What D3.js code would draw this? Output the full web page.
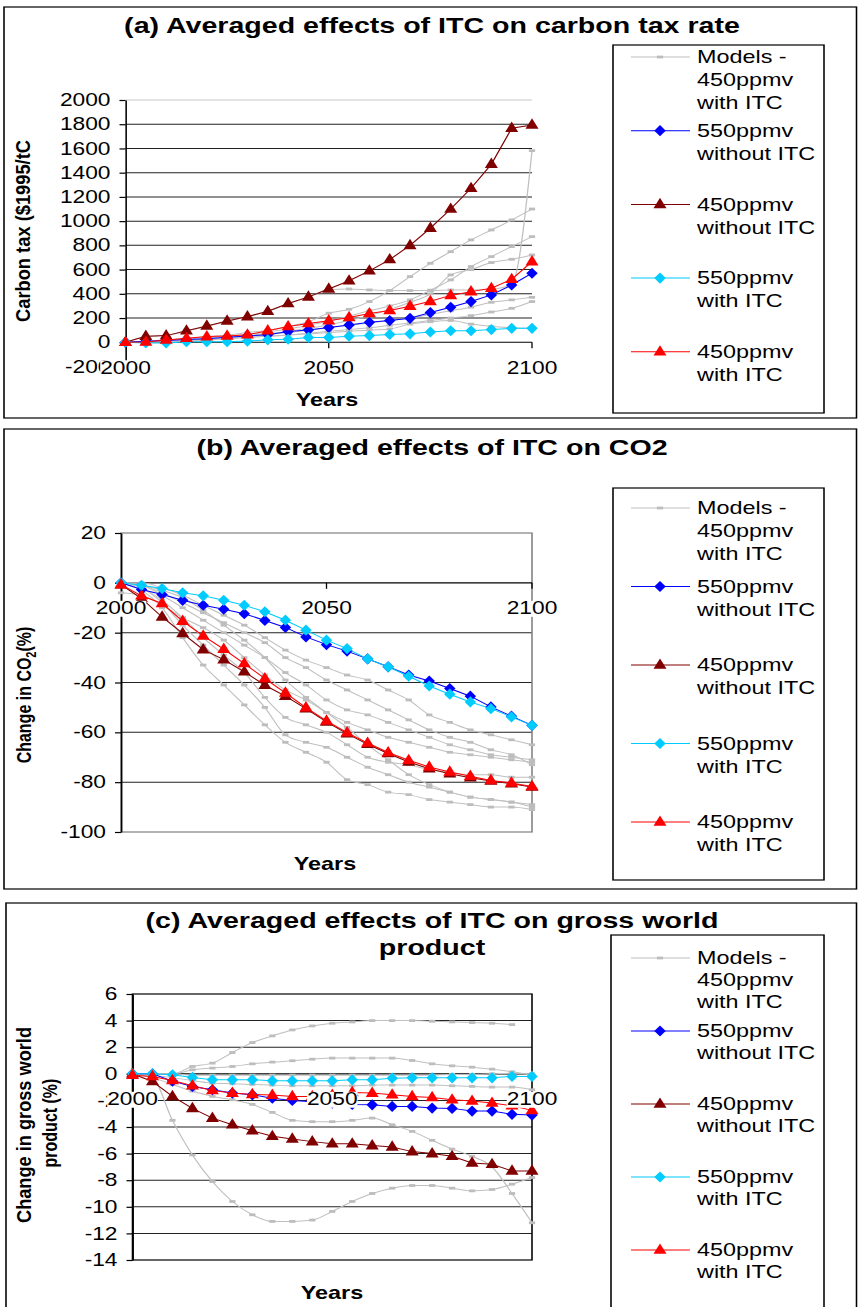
<!DOCTYPE html>
<html>
<head>
<meta charset="utf-8">
<script src="https://cdn.jsdelivr.net/npm/d3@7"></script>
<style>
body { margin: 0; background: #fff; }
svg { display: block; }
text { font-family: "Liberation Sans", Arial, sans-serif; fill: #000; }
</style>
</head>
<body>
<script>
// the original picture is stretched sideways, so draw in a narrower box and stretch it
const SX = 1.3;
const W = 858 / SX, H = 1307;
const X = v => v / SX;

const years = [2000, 2005, 2010, 2015, 2020, 2025, 2030, 2035, 2040, 2045, 2050,
               2055, 2060, 2065, 2070, 2075, 2080, 2085, 2090, 2095, 2100];
const xTicks = [2000, 2050, 2100];

// (a) carbon tax rate, $1995/tC
const taxTicks = [-200, 0, 200, 400, 600, 800, 1000, 1200, 1400, 1600, 1800, 2000];
const taxWithout550 = [0, 8, 15, 22, 30, 41, 52, 62, 88, 102, 121, 143, 165, 179, 198, 245, 289, 336, 391, 473, 570];
const taxWithout450 = [0, 50, 55, 95, 135, 176, 212, 256, 320, 375, 440, 508, 590, 683, 800, 942, 1100, 1271, 1470, 1767, 1794];
const taxWith550 = [0, -5, -5, 5, 5, 5, 10, 20, 25, 40, 40, 50, 55, 65, 70, 85, 95, 95, 105, 115, 115];
const taxWith450 = [0, 2, 19, 33, 47, 52, 62, 96, 130, 155, 178, 205, 237, 262, 298, 338, 387, 418, 446, 520, 666];
const taxModels = [
  [0, 10, 20, 30, 45, 60, 80, 100, 130, 170, 240, 272, 336, 427, 542, 652, 748, 845, 927, 1010, 1100],
  [0, 5, 15, 25, 35, 50, 65, 85, 110, 140, 175, 215, 260, 300, 350, 430, 515, 625, 707, 790, 872],
  [0, 5, 10, 20, 30, 40, 55, 70, 90, 115, 145, 180, 220, 270, 330, 400, 556, 600, 658, 685, 721],
  [0, 45, 55, 92, 130, 172, 210, 255, 318, 372, 435, 440, 432, 427, 427, 427, 432, 432, 437, 480, 1582],
  [0, 5, 10, 15, 25, 35, 50, 65, 80, 100, 120, 140, 160, 180, 200, 230, 260, 290, 330, 350, 371],
  [0, 5, 10, 15, 20, 30, 40, 50, 60, 75, 90, 105, 120, 140, 160, 180, 200, 220, 250, 280, 336],
  [0, 0, 5, 10, 20, 30, 40, 50, 60, 70, 80, 90, 100, 110, 150, 170, 180, 150, 130, 120, 116]
];

// (b) change in CO2, %
const co2Ticks = [-100, -80, -60, -40, -20, 0, 20];
const co2Without550 = [0, -2.7, -4.7, -7, -9, -10.6, -12.4, -15.1, -17.9, -21.7, -24.8, -27.4, -30.5, -33.7, -37, -39.4, -42.4, -45.5, -49.8, -53.5, -57.2];
const co2Without450 = [-0.7, -6.3, -13.7, -20.3, -26.8, -30.8, -35.7, -41.1, -45.5, -50.5, -55.8, -60.5, -64.8, -68.5, -71.9, -74.6, -76.6, -78.2, -79.5, -80.6, -81.9];
const co2With550 = [0, -1, -2.3, -4, -5.2, -7, -9, -11.6, -15, -19, -23, -26.4, -30.5, -33.7, -37.5, -41.4, -44.7, -47.8, -50.5, -53.8, -57.2];
const co2With450 = [-0.7, -5.2, -8.3, -15.4, -21.3, -26.6, -32.4, -38.4, -44.2, -50.1, -55.4, -60.1, -64.3, -68.1, -71.2, -73.9, -75.9, -77.6, -79.3, -80.3, -81.7];
const co2Models = [
  [0, -3, -10, -22, -33, -41, -49, -57, -64, -68, -72, -79, -81, -84, -85, -87, -88, -89, -90, -90, -91],
  [0, -2, -8, -17, -25, -33, -41, -50, -61, -64, -66, -70, -74, -77, -80, -82, -84, -86, -87, -88, -89],
  [0, -2, -7, -14, -22, -29, -36, -46, -54, -57, -60, -65, -70, -72, -73, -75, -76, -77, -77, -78, -78],
  [-4, -5, -9, -14, -18, -23, -30, -37, -43, -47, -52, -56, -59, -62, -64, -66, -68, -69, -70, -71, -72],
  [0, -1, -5, -10, -15, -20, -25, -30, -36, -41, -47, -51, -53, -56, -59, -62, -65, -67, -69, -70, -71],
  [0, -1, -4, -8, -12, -16, -20, -24, -30, -34, -39, -43, -47, -51, -55, -59, -62, -64, -67, -69, -73],
  [0, 0, -2, -5, -9, -13, -17, -22, -27, -31, -34, -37, -39, -43, -47, -53, -56, -59, -61, -63, -65],
  [0, -1, -3, -6, -11, -17, -23, -30, -39, -46, -52, -58, -65, -71, -77, -81, -84, -86, -87, -88, -90]
];

// (c) change in gross world product, %
const gwpTicks = [-14, -12, -10, -8, -6, -4, -2, 0, 2, 4, 6];
const gwpWithout550 = [0, 0, -0.55, -0.95, -1.2, -1.45, -1.58, -1.83, -2.0, -2.1, -2.2, -2.3, -2.33, -2.45, -2.45, -2.58, -2.6, -2.8, -2.8, -3.05, -3.1];
const gwpWithout450 = [0, -0.58, -1.7, -2.6, -3.33, -3.83, -4.28, -4.7, -4.9, -5.1, -5.26, -5.26, -5.4, -5.5, -5.85, -6.0, -6.2, -6.7, -6.8, -7.3, -7.3];
const gwpWith550 = [0, 0, -0.07, -0.27, -0.45, -0.45, -0.45, -0.53, -0.53, -0.53, -0.53, -0.45, -0.45, -0.33, -0.3, -0.3, -0.3, -0.3, -0.3, -0.2, -0.2];
const gwpWith450 = [-0.1, -0.2, -0.5, -0.9, -1.25, -1.45, -1.55, -1.6, -1.7, -1.7, -1.6, -1.4, -1.45, -1.58, -1.7, -1.78, -1.95, -2.05, -2.2, -2.4, -2.75];
const gwpModels = [
  [0, 0, 0, 0.55, 0.8, 1.6, 2.35, 2.85, 3.3, 3.6, 3.8, 3.9, 4.0, 4.0, 4.0, 3.95, 3.9, 3.85, 3.8, 3.7, null],
  [0, 0, 0, 0.3, 0.43, 0.55, 0.75, 0.88, 0.98, 1.1, 1.18, 1.18, 1.18, 1.18, 1.0, 0.75, 0.6, 0.5, 0.35, 0.15, -0.1],
  [0, -0.3, -3.5, -6.1, -8.1, -9.6, -10.6, -11.1, -11.1, -11.0, -10.35, -9.6, -9.0, -8.6, -8.4, -8.4, -8.6, -8.8, -8.7, -8.3, -7.8],
  [0, -0.3, -0.8, -1.3, -1.7, -1.95, -2.3, -2.9, -3.5, -3.6, -3.6, -3.5, -3.33, -3.83, -4.33, -5.0, -5.66, -6.2, -7.0, -9.0, -11.2],
  [0, -0.1, -0.3, -0.5, -0.7, -0.75, -0.8, -0.85, -0.9, -0.9, -0.9, -0.9, -0.85, -0.85, -0.85, -0.85, -0.9, -0.95, -1.0, -1.0, -1.2],
  [0, 0, 0, -0.1, -0.1, -0.1, -0.1, -0.1, -0.1, -0.1, -0.1, -0.1, -0.1, -0.1, -0.1, -0.1, -0.05, -0.05, 0, 0.05, 0]
];

const legendLabels = [
  ["Models -", "450ppmv", "with ITC"],
  ["550ppmv", "without ITC"],
  ["450ppmv", "without ITC"],
  ["550ppmv", "with ITC"],
  ["450ppmv", "with ITC"]
];

const gray = "#c0c0c0";
const colors = ["#0000ff", "#800000", "#00ccff", "#ff0000"];
const diamond = "M0,-5.6L4.4,0L0,5.6L-4.4,0Z";
const triangle = "M0,-6.6L5,3.8L-5,3.8Z";
const dash = "M-2.4,-1.4h4.8v2.8h-4.8Z";
const shapes = [diamond, triangle, diamond, triangle];

const panels = [
  {
    frame: [4, 7, 856.5, 418], titles: [["(a) Averaged effects of ITC on carbon tax rate", 33]],
    x0: 125.5, x1: 532, yDomain: [-200, 2000], yRange: [366.5, 100], yTicks: taxTicks,
    border: null, topGrid: "#c8c8c8",
    ylabel: [["Carbon tax ($1995/tC", 23, 231, 182]],
    yearsY: 406, yearsX: 327,
    legend: { box: [613, 45, 824, 413], y0: 57, step: 73.7, lh: 23 },
    models: taxModels, series: [taxWithout550, taxWithout450, taxWith550, taxWith450]
  },
  {
    frame: [4, 429, 856.5, 889], titles: [["(b) Averaged effects of ITC on CO2", 455]],
    x0: 121, x1: 532, yDomain: [-100, 20], yRange: [832, 533], yTicks: co2Ticks,
    border: "#808080", topGrid: null,
    ylabel: [["co2", 24, 695, 0]],
    yearsY: 870, yearsX: 325,
    legend: { box: [613, 488, 824, 880], y0: 508, step: 78.5, lh: 23 },
    models: co2Models, series: [co2Without550, co2Without450, co2With550, co2With450]
  },
  {
    frame: [6, 903, 856.5, 1330], titles: [["(c) Averaged effects of ITC on gross world", 928], ["product", 955]],
    x0: 132.5, x1: 532, yDomain: [-14, 6], yRange: [1260, 994], yTicks: gwpTicks,
    border: "#000", topGrid: null,
    ylabel: [["Change in gross world", 24, 1125, 196], ["product (%)", 50, 1123, 0]],
    yearsY: 1299, yearsX: 332,
    legend: { box: [611, 935, 824, 1330], y0: 958, step: 73, lh: 22 },
    models: gwpModels, series: [gwpWithout550, gwpWithout450, gwpWith550, gwpWith450]
  }
];

const svg = d3.select("body").append("svg")
  .attr("width", 858).attr("height", H)
  .attr("viewBox", `0 0 ${W} ${H}`)
  .attr("preserveAspectRatio", "none");
svg.append("rect").attr("width", W).attr("height", H).attr("fill", "#fff");

function drawLine(g, x, y, values, color, marker, markColor, curve) {
  const pts = years.map((yr, i) => [yr, values[i]]).filter(d => d[1] != null);
  g.append("path").datum(pts)
    .attr("fill", "none").attr("stroke", color).attr("stroke-width", 1)
    .attr("d", d3.line().curve(curve).x(d => x(d[0])).y(d => y(d[1])));
  g.selectAll(null).data(pts).enter().append("path")
    .attr("transform", d => `translate(${x(d[0])},${y(d[1])})`)
    .attr("d", marker).attr("fill", markColor);
}

panels.forEach(p => {
  const g = svg.append("g");
  const [fx0, fy0, fx1, fy1] = p.frame;
  g.append("rect").attr("x", X(fx0)).attr("y", fy0)
    .attr("width", X(fx1 - fx0)).attr("height", fy1 - fy0)
    .attr("fill", "none").attr("stroke", "#000").attr("stroke-width", 1.2);

  p.titles.forEach(([t, ty]) => {
    g.append("text").attr("x", X(432)).attr("y", ty).attr("text-anchor", "middle")
      .attr("font-size", 22).attr("font-weight", "bold").text(t);
  });

  const x = d3.scaleLinear().domain([2000, 2100]).range([X(p.x0), X(p.x1)]);
  const y = d3.scaleLinear().domain(p.yDomain).range(p.yRange);
  const yTop = p.yDomain[1];

  // gridlines
  g.selectAll(null).data(p.yTicks.filter(t => t !== 0 && t !== p.yDomain[0] && t !== yTop))
    .enter().append("line")
    .attr("x1", x(2000)).attr("x2", x(2100))
    .attr("y1", d => y(d)).attr("y2", d => y(d))
    .attr("stroke", "#222").attr("stroke-width", 1);
  if (p.topGrid) {
    g.append("line").attr("x1", x(2000)).attr("x2", x(2100))
      .attr("y1", y(yTop)).attr("y2", y(yTop)).attr("stroke", p.topGrid);
  }
  if (p.border) {
    g.append("rect").attr("x", x(2000)).attr("y", y(yTop))
      .attr("width", x(2100) - x(2000)).attr("height", y(p.yDomain[0]) - y(yTop))
      .attr("fill", "none").attr("stroke", p.border).attr("stroke-width", 1.2);
  }

  // y axis
  const ya = g.append("g").attr("transform", `translate(${x(2000)},0)`)
    .call(d3.axisLeft(y).tickValues(p.yTicks).tickFormat(d => String(d))
      .tickSize(X(6)).tickSizeOuter(0).tickPadding(X(9)));
  ya.selectAll("path,line").attr("stroke", "#000").attr("stroke-width", 1.2);
  ya.selectAll("text").attr("font-size", 17.5).attr("font-family", "Liberation Sans, Arial, sans-serif");

  // x axis
  g.append("line").attr("x1", x(2000)).attr("x2", x(2100))
    .attr("y1", y(0)).attr("y2", y(0)).attr("stroke", "#000").attr("stroke-width", 1.2);
  g.selectAll(null).data(xTicks).enter().append("line")
    .attr("x1", d => x(d)).attr("x2", d => x(d))
    .attr("y1", y(0)).attr("y2", y(0) + 6).attr("stroke", "#000").attr("stroke-width", 1);

  // series
  const sg = g.append("g");
  p.models.forEach(m => drawLine(sg, x, y, m, gray, dash, "#bdbdbd", d3.curveMonotoneX));
  p.series.forEach((s, i) => drawLine(sg, x, y, s, colors[i], shapes[i], colors[i], d3.curveLinear));

  // x tick labels on white boxes
  xTicks.forEach(t => {
    const lg = g.append("g");
    const bg = lg.append("rect").attr("fill", "#fff");
    const tx = lg.append("text").attr("x", x(t)).attr("y", y(0) + 31.5)
      .attr("text-anchor", "middle").attr("font-size", 17.5).text(t);
    const b = tx.node().getBBox();
    bg.attr("x", b.x).attr("y", b.y + 2).attr("width", b.width).attr("height", b.height - 3);
  });

  // y axis title
  p.ylabel.forEach(([t, cx, cy, len]) => {
    const lt = g.append("text")
      .attr("transform", `translate(${X(cx)},${cy}) rotate(-90)`)
      .attr("text-anchor", "middle").attr("dy", "0.35em")
      .attr("font-size", 16).attr("font-weight", "bold");
    if (t === "co2") {
      lt.append("tspan").text("Change in CO");
      lt.append("tspan").attr("font-size", 11).attr("dy", 4).text("2");
      lt.append("tspan").attr("dy", -4).text("(%)");
    } else {
      lt.text(t);
      if (len) lt.attr("textLength", len).attr("lengthAdjust", "spacingAndGlyphs");
    }
  });

  g.append("text").attr("x", X(p.yearsX)).attr("y", p.yearsY).attr("text-anchor", "middle")
    .attr("font-size", 18).attr("font-weight", "bold").text("Years");

  // legend
  const L = p.legend;
  g.append("rect").attr("x", X(L.box[0])).attr("y", L.box[1])
    .attr("width", X(L.box[2] - L.box[0])).attr("height", L.box[3] - L.box[1])
    .attr("fill", "#fff").attr("stroke", "#000").attr("stroke-width", 1.2);
  legendLabels.forEach((lines, i) => {
    const cy = L.y0 + i * L.step;
    const col = i === 0 ? gray : colors[i - 1];
    g.append("line").attr("x1", X(631)).attr("x2", X(690)).attr("y1", cy).attr("y2", cy)
      .attr("stroke", col).attr("stroke-width", 1);
    g.append("path").attr("transform", `translate(${X(660)},${cy})`)
      .attr("d", i === 0 ? dash : shapes[i - 1]).attr("fill", i === 0 ? "#bdbdbd" : col);
    lines.forEach((t, k) => {
      g.append("text").attr("x", X(697)).attr("y", cy + k * L.lh).attr("dy", "0.35em")
        .attr("font-size", 18).text(t);
    });
  });
});
</script>
</body>
</html>
